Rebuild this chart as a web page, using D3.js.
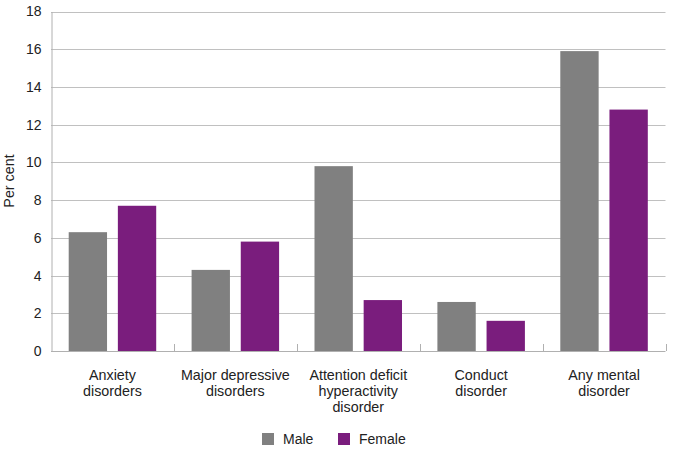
<!DOCTYPE html>
<html><head><meta charset="utf-8">
<script src="https://cdn.jsdelivr.net/npm/d3@7"></script>
<style>body{margin:0;background:#fff}text{font-family:"Liberation Sans",Arial,sans-serif;fill:#222}</style>
</head><body><svg id="c" width="675" height="462"></svg>
<script>
const categories = [["Anxiety","disorders"],["Major depressive","disorders"],["Attention deficit","hyperactivity","disorder"],["Conduct","disorder"],["Any mental","disorder"]];
const seriesNames = ["Male","Female"];
const male = [6.3,4.3,9.8,2.6,15.9];
const female = [7.7,5.8,2.7,1.6,12.8];
const yTicks = [0,2,4,6,8,10,12,14,16,18];
const colors = ["#808080","#7a1d7d"];

const svg = d3.select("#c");
const L=51, R=665.5, T=11.5, B=351;
const x = d3.scaleBand().domain(d3.range(categories.length)).range([L,R]);
const inner = d3.scaleBand().domain([0,1]).range([0,x.bandwidth()]).paddingInner(0.22).paddingOuter(0.36);
const y = d3.scaleLinear().domain([0,18]).range([B,T]);

// gridlines
svg.append("g").selectAll("line").data(yTicks.filter(d=>d>0)).join("line")
  .attr("x1",L).attr("x2",R).attr("y1",d=>Math.round(y(d))+0.5).attr("y2",d=>Math.round(y(d))+0.5)
  .attr("stroke","#c0c0c0").attr("stroke-width",1);

// bars
const data = [male,female];
const g = svg.append("g");
data.forEach((vals,si)=>{
  g.selectAll(null).data(vals).join("rect")
   .attr("x",(d,i)=>x(i)+inner(si)).attr("width",inner.bandwidth())
   .attr("y",d=>y(d)).attr("height",d=>B-y(d))
   .attr("fill",colors[si]);
});

// axes
const yAxis = d3.axisLeft(y).tickValues(yTicks).tickSize(0).tickPadding(10);
const ya = svg.append("g").attr("transform",`translate(${L+0.5},0)`).call(yAxis);
ya.select(".domain").attr("stroke","#b0b0b0");
ya.selectAll("text").style("font-size","14px").attr("fill","#222").style("font-family","Liberation Sans, Arial, sans-serif");

// bottom axis line and inside category ticks
svg.append("line").attr("x1",L).attr("x2",R).attr("y1",B+0.5).attr("y2",B+0.5).attr("stroke","#b0b0b0");
svg.append("g").selectAll("line").data(d3.range(1,categories.length+1)).join("line")
  .attr("x1",i=>Math.round(i<categories.length?x(i):R)+0.5).attr("x2",i=>Math.round(i<categories.length?x(i):R)+0.5)
  .attr("y1",B-7).attr("y2",B).attr("stroke","#b0b0b0");

// category labels
const cl = svg.append("g").selectAll("text").data(categories).join("text")
  .attr("text-anchor","middle").style("font-size","14.3px")
  .attr("transform",(d,i)=>`translate(${x(i)+x.bandwidth()/2},380)`);
cl.selectAll("tspan").data(d=>d).join("tspan").attr("x",0).attr("dy",(d,j)=>j?15.8:0).text(d=>d);

// y title
svg.append("text").attr("transform","translate(13.5,181) rotate(-90)").attr("text-anchor","middle")
  .style("font-size","14.3px").text("Per cent");

// legend
const legX=[262,338];
seriesNames.forEach((n,i)=>{
  svg.append("rect").attr("x",legX[i]).attr("y",433).attr("width",12).attr("height",12).attr("fill",colors[i]);
  svg.append("text").attr("x",legX[i]+21).attr("y",444).style("font-size","14px").text(n);
});
</script></body></html>
